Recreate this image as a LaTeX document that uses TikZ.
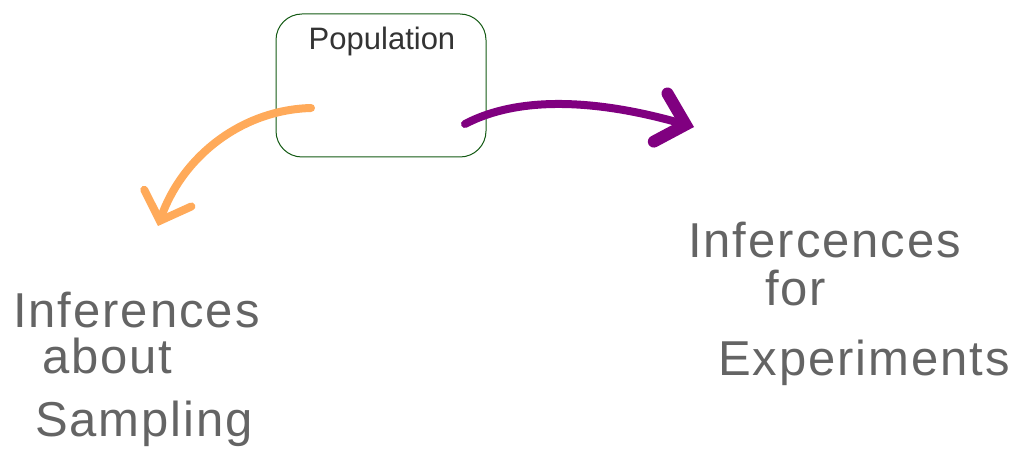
\documentclass[tikz,border=0pt]{standalone}
\usepackage{fontspec}
\setmainfont{Liberation Sans}
\usepackage{xcolor}
\usetikzlibrary{arrows.meta}

\definecolor{boxgreen}{RGB}{20,90,20}
\definecolor{sketchorange}{RGB}{255,170,90}
\definecolor{sketchpurple}{RGB}{128,0,128}
\definecolor{inkgray}{RGB}{100,100,100}

\tikzset{
  hand/.style={inner sep=0pt, text=inkgray, font=\fontsize{49}{54}\selectfont\addfontfeature{LetterSpace=4}},
  sketcharrow/.style={line width=8pt, line cap=round}
}

\begin{document}
\begin{tikzpicture}[x=1pt, y=-1pt]
		\useasboundingbox (0,0) rectangle (1021,454);

		% population box
		\node[draw=boxgreen, line width=1pt, rounded corners=26pt, minimum width=210pt, minimum height=143pt](pop) at (381,85.5) {};
		\node[inner sep=0pt, anchor=base, text=black!80, font=\fontsize{31}{34}\selectfont](poplabel) at (382,50) {Population};

		% inferences about sampling
		\node[hand, anchor=base west](samp1) at (13,328) {Inferences};
		\node[hand, anchor=base west](samp2) at (42,374) {about};
		\node[hand, anchor=base west](samp3) at (35,437) {Sampling};

		% inferences for experiments
		\node[hand, anchor=base west](exp1) at (688,258) {Infercences};
		\node[hand, anchor=base west](exp2) at (765,306) {for};
		\node[hand, anchor=base west](exp3) at (718,376) {Experiments};

		% arrows
		\coordinate (sampstart) at (311,108);
		\coordinate (sampend) at (158,226);
		\coordinate (expstart) at (465,124);
		\coordinate (expend) at (694,127);

		\draw[sketcharrow, draw=sketchorange, -{Straight Barb[length=24pt, width=50pt, line cap=round]}]
			(sampstart) .. controls (240,110) and (182,158) .. (sampend);
		\draw[sketcharrow, draw=sketchpurple, -{Straight Barb[length=26pt, width=50pt, line width=12pt, line cap=round]}]
			(expstart) .. controls (530,90) and (620,106) .. (expend);
	\end{tikzpicture}
\end{document}
